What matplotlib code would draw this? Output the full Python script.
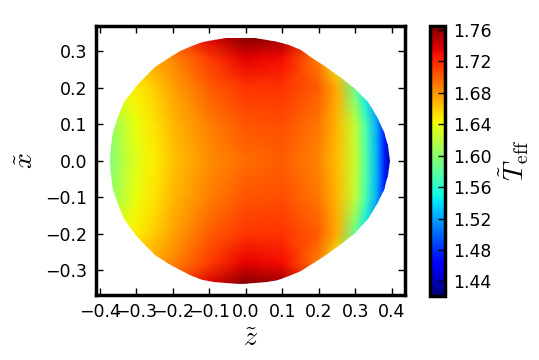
import numpy as np
import matplotlib
matplotlib.use('Agg')
import matplotlib.pyplot as plt
from matplotlib.patches import Polygon

plt.rcParams['mathtext.fontset'] = 'cm'

# grid nodes
z_nodes = [-0.38, -0.34, -0.30, -0.25, -0.20, -0.10, 0.00, 0.10, 0.20, 0.25, 0.30, 0.33, 0.36, 0.38, 0.40]
x_nodes = [0.00, 0.10, 0.20, 0.28, 0.34]   # upper half, mirrored below

# effective temperature at the nodes, one row per x_node
t_x000 = [1.590, 1.615, 1.635, 1.648, 1.662, 1.683, 1.695, 1.700, 1.685, 1.665, 1.625, 1.575, 1.525, 1.475, 1.430]
t_x010 = [1.600, 1.620, 1.640, 1.652, 1.666, 1.688, 1.703, 1.705, 1.690, 1.668, 1.622, 1.572, 1.522, 1.475, 1.430]
t_x020 = [1.640, 1.642, 1.648, 1.660, 1.675, 1.700, 1.715, 1.715, 1.700, 1.672, 1.585, 1.540, 1.500, 1.460, 1.430]
t_x028 = [1.660, 1.662, 1.668, 1.675, 1.685, 1.712, 1.735, 1.730, 1.688, 1.635, 1.575, 1.540, 1.500, 1.460, 1.430]
t_x034 = [1.680, 1.682, 1.685, 1.690, 1.700, 1.738, 1.765, 1.758, 1.712, 1.670, 1.620, 1.570, 1.520, 1.480, 1.430]

# outline of the upper half of the star (z, x), left to right
edge_z = [-0.372, -0.370, -0.363, -0.351, -0.333, -0.305, -0.280, -0.248, -0.212, -0.180,
          -0.148, -0.118, -0.088, -0.055, -0.017, 0.025, 0.057, 0.088, 0.118, 0.150,
          0.182, 0.220, 0.258, 0.298, 0.334, 0.360, 0.378, 0.390, 0.395]
edge_x = [0.000, 0.040, 0.080, 0.120, 0.160, 0.200, 0.228, 0.258, 0.282, 0.301,
          0.316, 0.326, 0.332, 0.336, 0.337, 0.336, 0.332, 0.326, 0.317, 0.303,
          0.282, 0.258, 0.230, 0.200, 0.160, 0.120, 0.080, 0.040, 0.000]

cbar_ticks = [1.44, 1.48, 1.52, 1.56, 1.60, 1.64, 1.68, 1.72, 1.76]
xticks = [-0.4, -0.3, -0.2, -0.1, 0.0, 0.1, 0.2, 0.3, 0.4]
yticks = [-0.3, -0.2, -0.1, 0.0, 0.1, 0.2, 0.3]

# build full grid (mirror in x)
upper = np.array([t_x000, t_x010, t_x020, t_x028, t_x034])
x_full = np.concatenate([-np.array(x_nodes[:0:-1]), x_nodes])
T = np.vstack([upper[:0:-1], upper])
Z, X = np.meshgrid(z_nodes, x_full)

fig = plt.figure(figsize=(5.39, 3.6), dpi=100)
ax = fig.add_axes([0.178, 0.181, 0.573, 0.747])
cax = fig.add_axes([0.798, 0.179, 0.028, 0.749])

mesh = ax.pcolormesh(Z, X, T, cmap='jet', vmin=1.422, vmax=1.765, shading='gouraud')

# clip to the stellar outline
outline = list(zip(edge_z, edge_x)) + list(zip(edge_z[::-1], [-v for v in edge_x[::-1]]))
patch = Polygon(outline, closed=True, facecolor='none', edgecolor='none', transform=ax.transData)
ax.add_patch(patch)
mesh.set_clip_path(patch)

ax.set_xlim(-0.411, 0.436)
ax.set_ylim(-0.368, 0.37)
ax.set_xticks(xticks)
ax.set_yticks(yticks)
ax.tick_params(direction='in', length=5, width=1, top=True, right=True, labelsize=12.5, pad=6)
for s in ax.spines.values():
    s.set_linewidth(2.5)

ax.set_xlabel(r'$\tilde{z}$', fontsize=20, labelpad=2)
ax.set_ylabel(r'$\tilde{x}$', fontsize=20, labelpad=5)

cb = fig.colorbar(mesh, cax=cax, ticks=cbar_ticks)
cb.ax.set_yticklabels(['%.2f' % v for v in cbar_ticks])
cb.ax.tick_params(direction='in', length=5, width=1, labelsize=12.5, pad=6)
cb.outline.set_linewidth(2.5)
cb.set_label(r'$\tilde{T}_{\rm eff}$', fontsize=20, labelpad=4)

fig.savefig('out.png', dpi=100)
